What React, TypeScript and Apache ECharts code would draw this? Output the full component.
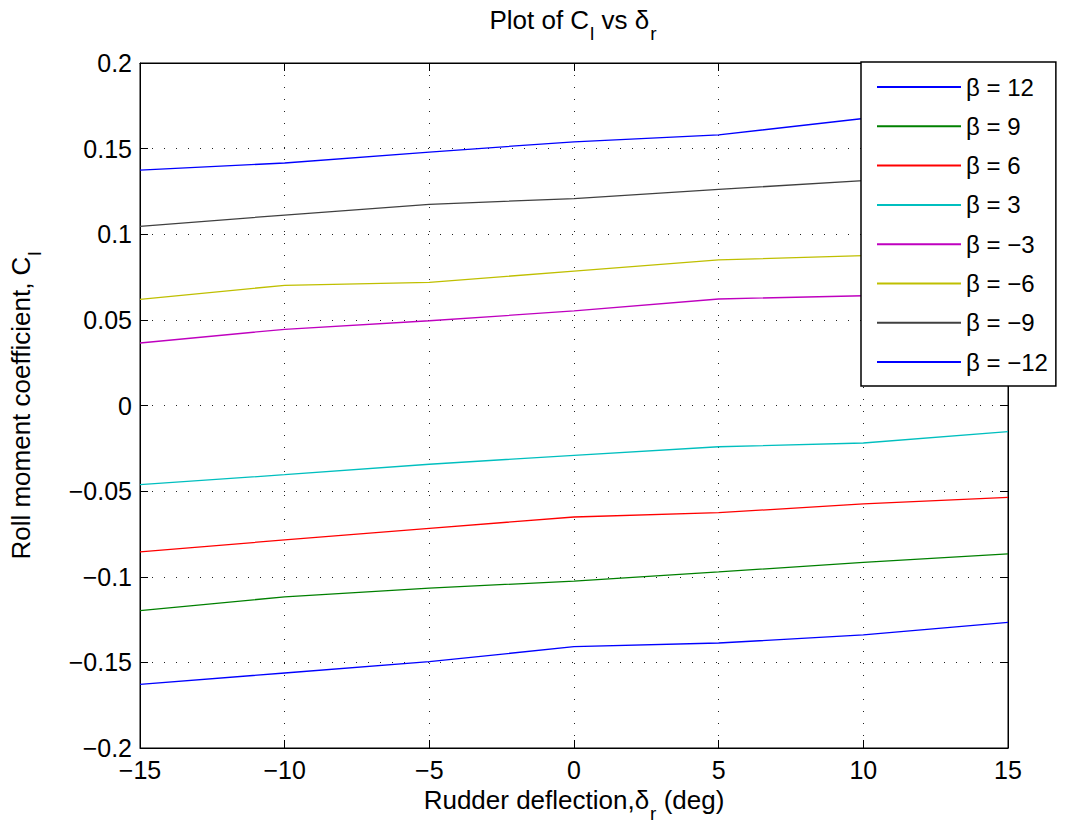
import React, { useEffect, useRef } from "react";
import * as echarts from "echarts";

const deflection = [-15, -10, -5, 0, 5, 10, 15];
const betaLabels = ["β = 12", "β = 9", "β = 6", "β = 3", "β = −3", "β = −6", "β = −9", "β = −12"];
const betaP12 = [0.1375, 0.1416, 0.148, 0.154, 0.158, 0.1676, 0.177];
const betaP9 = [-0.1198, -0.1117, -0.1067, -0.1025, -0.0972, -0.0916, -0.0867];
const betaP6 = [-0.0855, -0.0785, -0.0717, -0.0651, -0.0626, -0.0575, -0.0536];
const betaP3 = [-0.0462, -0.0404, -0.0343, -0.0291, -0.0241, -0.0219, -0.0153];
const betaM3 = [0.0365, 0.0445, 0.0495, 0.0552, 0.0622, 0.0641, 0.066];
const betaM6 = [0.062, 0.0702, 0.0719, 0.0785, 0.085, 0.0875, 0.09];
const betaM9 = [0.1046, 0.1112, 0.1175, 0.1208, 0.1262, 0.1313, 0.136];
const betaM12 = [-0.1628, -0.1562, -0.1496, -0.1408, -0.1387, -0.134, -0.1266];
const seriesValues = [betaP12, betaP9, betaP6, betaP3, betaM3, betaM6, betaM9, betaM12];
const colors = ["#0000ff", "#008000", "#ff0000", "#00bfbf", "#bf00bf", "#bfbf00", "#404040", "#0000ff"];

const FONT = "Liberation Sans, Arial, sans-serif";

const fmtY = (v: number) => {
  const r = parseFloat(v.toFixed(2));
  if (r === 0) return "0";
  return r < 0 ? "−" + String(Math.abs(r)) : String(r);
};
const fmtX = (v: number) => (v < 0 ? "−" + Math.abs(v) : String(v));

export default function App() {
  const ref = useRef<HTMLDivElement>(null);
  useEffect(() => {
    if (!ref.current) return;
    const chart = echarts.init(ref.current, null, { renderer: "svg" });
    const richFor = (size: number, subSize: number, drop: number) => ({
      n: { fontSize: size, fontFamily: FONT, color: "#000", lineHeight: size + 4, padding: [0, 0, drop, 0], verticalAlign: "bottom" },
      sub: { fontSize: subSize, fontFamily: FONT, color: "#000", lineHeight: subSize, padding: [0, 0, 0, 1], verticalAlign: "bottom" },
    });
    const tickStyle = { inside: true, length: 8, lineStyle: { color: "#000", width: 1 } };
    const gridLine = { show: true, lineStyle: { color: "#222", type: [1, 11], width: 1 } };
    chart.setOption({
      animation: false,
      backgroundColor: "#fff",
      textStyle: { fontFamily: FONT },
      title: {
        text: "{n|Plot of C}{sub|l}{n| vs δ}{sub|r}",
        left: 573,
        textAlign: "center",
        top: 13,
        padding: 0,
        textStyle: {
          fontSize: 26,
          fontWeight: "normal",
          fontFamily: FONT,
          color: "#000",
          rich: richFor(26, 19, 10),
        },
      },
      grid: { left: 139, top: 63, right: 58, bottom: 81, show: true, borderColor: "#000", borderWidth: 1 },
      legend: {
        data: betaLabels,
        orient: "vertical",
        left: 861,
        top: 62,
        padding: [13, 8, 12, 16],
        itemGap: 15.3,
        itemWidth: 84,
        itemHeight: 2,
        icon: "rect",
        backgroundColor: "#fff",
        borderColor: "#000",
        borderWidth: 1.5,
        borderRadius: 0,
        textStyle: { fontSize: 24, fontFamily: FONT, color: "#000", lineHeight: 24 },
      },
      xAxis: [
        {
          type: "value",
          min: -15,
          max: 15,
          interval: 5,
          position: "bottom",
          name: "{n|Rudder deflection,δ}{sub|r}{n| (deg)}",
          nameLocation: "middle",
          nameGap: 36,
          nameTextStyle: { fontSize: 26, fontFamily: FONT, color: "#000", rich: richFor(26, 19, 10) },
          axisLine: { show: true, onZero: false, lineStyle: { color: "#000" } },
          axisTick: tickStyle,
          axisLabel: { fontSize: 25, color: "#000", fontFamily: FONT, margin: 9, formatter: fmtX },
          splitLine: gridLine,
        },
        {
          type: "value",
          min: -15,
          max: 15,
          interval: 5,
          position: "top",
          axisLine: { show: true, onZero: false, lineStyle: { color: "#000" } },
          axisTick: tickStyle,
          axisLabel: { show: false },
          splitLine: { show: false },
        },
      ],
      yAxis: [
        {
          type: "value",
          min: -0.2,
          max: 0.2,
          interval: 0.05,
          position: "left",
          name: "{n|Roll moment coefficient, C}{sub|l}",
          nameLocation: "middle",
          nameGap: 96,
          nameRotate: 90,
          nameTextStyle: { fontSize: 26, fontFamily: FONT, color: "#000", rich: richFor(26, 19, 10) },
          axisLine: { show: true, onZero: false, lineStyle: { color: "#000" } },
          axisTick: tickStyle,
          axisLabel: { fontSize: 25, color: "#000", fontFamily: FONT, margin: 8, formatter: fmtY },
          splitLine: gridLine,
        },
        {
          type: "value",
          min: -0.2,
          max: 0.2,
          interval: 0.05,
          position: "right",
          axisLine: { show: true, onZero: false, lineStyle: { color: "#000" } },
          axisTick: tickStyle,
          axisLabel: { show: false },
          splitLine: { show: false },
        },
      ],
      series: seriesValues.map((vals, i) => ({
        name: betaLabels[i],
        type: "line",
        xAxisIndex: 0,
        yAxisIndex: 0,
        symbol: "none",
        color: colors[i],
        lineStyle: { width: 1.3, color: colors[i] },
        data: deflection.map((d, j) => [d, vals[j]]),
      })),
    });
    return () => chart.dispose();
  }, []);
  return <div ref={ref} style={{ position: "fixed", left: 0, top: 0, width: 1066, height: 829 }} />;
}
